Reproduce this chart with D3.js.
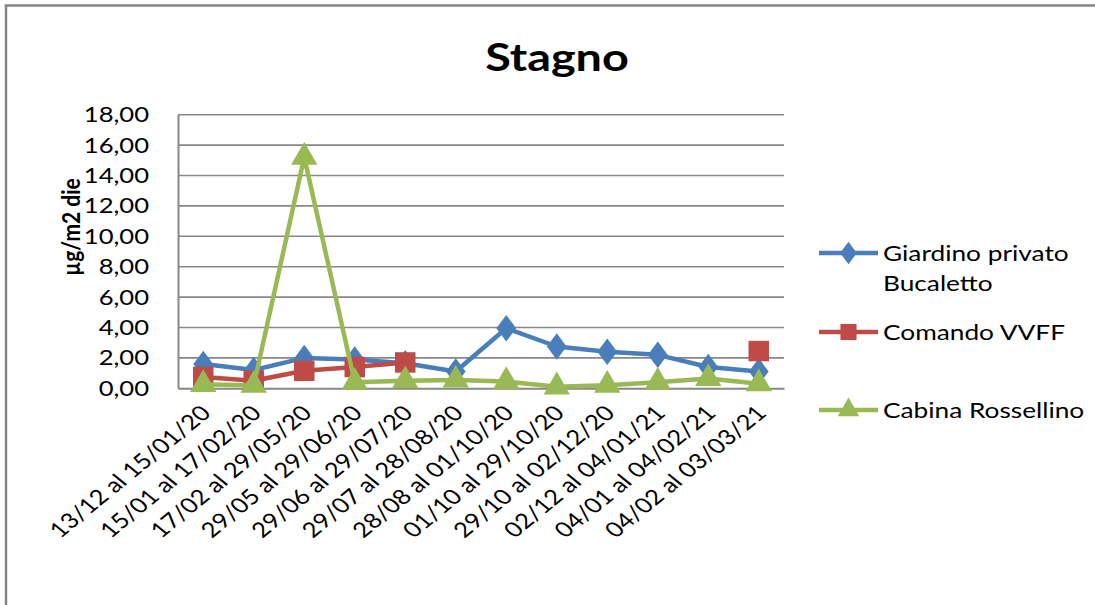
<!DOCTYPE html>
<html>
<head>
<meta charset="utf-8">
<script src="https://cdn.jsdelivr.net/npm/d3@7"></script>
<style>
html,body{margin:0;padding:0;background:#fff;}
svg{display:block;}
text{font-family:Lato,"Open Sans",sans-serif;fill:#000;}
</style>
</head>
<body>
<svg id="chart" width="1095" height="605"></svg>
<script>
const categories = ["13/12 al 15/01/20","15/01 al 17/02/20","17/02 al 29/05/20","29/05 al 29/06/20","29/06 al 29/07/20","29/07 al 28/08/20","28/08 al 01/10/20","01/10 al 29/10/20","29/10 al 02/12/20","02/12 al 04/01/21","04/01 al 04/02/21","04/02 al 03/03/21"];
const giardino = [1.6, 1.2, 2.0, 1.9, 1.65, 1.1, 3.95, 2.75, 2.4, 2.2, 1.4, 1.1];
const comando = [0.75, 0.5, 1.15, 1.4, 1.7, null, null, null, null, null, null, 2.45];
const cabina = [0.25, 0.2, 15.2, 0.4, 0.5, 0.55, 0.45, 0.1, 0.2, 0.4, 0.65, 0.3];
const seriesNames = ["Giardino privato|Bucaletto", "Comando VVFF", "Cabina Rossellino"];
const yTicks = [0, 2, 4, 6, 8, 10, 12, 14, 16, 18];
const title = "Stagno";
const yTitle = "µg/m2 die";

(function () {
const colors = ["#4a7ebb", "#be4b48", "#98b954"];
const shapes = [d3.symbolDiamond, d3.symbolSquare, d3.symbolTriangle];
const series = [giardino, comando, cabina];
const SX = 1.22;

const svg = d3.select("#chart");
const pl = 178, pr = 784, pt = 114.7, pb = 388.3;

const x = d3.scaleBand().domain(categories).range([pl, pr]);
const y = d3.scaleLinear().domain([0, 18]).range([pb, pt]);
const fmt = v => d3.format(".2f")(v).replace(".", ",");

// outer border
svg.append("path").attr("d", "M6,605 L6,5.5 L1095,5.5")
  .attr("fill", "none").attr("stroke", "#868686").attr("stroke-width", 2.5);

// title
svg.append("text").text(title)
  .attr("transform", `translate(557,71) scale(1.2,1)`)
  .attr("text-anchor", "middle").attr("font-size", 39).attr("font-weight", "bold");

// gridlines
svg.append("g").selectAll("line").data(yTicks.filter(d => d > 0)).join("line")
  .attr("x1", pl).attr("x2", pr)
  .attr("y1", d => y(d)).attr("y2", d => y(d))
  .attr("stroke", "#878787").attr("stroke-width", 1.6);

// axes
const yAxis = d3.axisLeft(y).tickValues(yTicks).tickFormat(fmt).tickSize(0).tickPadding(0);
const gy = svg.append("g").attr("transform", `translate(${pl},0)`).call(yAxis);
gy.select(".domain").attr("stroke", "#878787").attr("stroke-width", 2);
gy.selectAll(".tick").attr("transform", null);
gy.selectAll("text").each(function(d) {
  const t = d3.select(this);
  t.attr("x", null).attr("dy", null)
   .attr("text-anchor", "end")
   .attr("transform", `translate(-29,${y(d) + 7.5}) scale(${SX},1)`)
   .attr("font-size", 21).attr("font-family", "Lato").attr("fill", "#000");
});

const xAxis = d3.axisBottom(x).tickSize(0).tickPadding(0);
const gx = svg.append("g").attr("transform", `translate(0,${pb})`).call(xAxis);
gx.select(".domain").attr("stroke", "#878787").attr("stroke-width", 2);
gx.selectAll(".tick").attr("transform", null);
gx.selectAll("text").each(function(d) {
  const t = d3.select(this);
  t.attr("y", null).attr("dy", null)
   .attr("text-anchor", "end")
   .attr("transform", `translate(${x(d) + x.bandwidth() / 2 + 9},${26}) scale(${SX},1) rotate(-45)`)
   .attr("font-size", 21).attr("font-family", "Lato").attr("fill", "#000");
});

// y title
svg.append("text").text(yTitle)
  .attr("transform", `translate(80,227) scale(${SX},1) rotate(-90)`)
  .attr("text-anchor", "middle").attr("font-size", 21).attr("font-weight", "bold");

// lines & markers
const cx = i => x(categories[i]) + x.bandwidth() / 2;
const sizes = [280, 420, 300];
series.forEach((vals, si) => {
  const line = d3.line().defined(v => v != null).x((v, i) => cx(i)).y(v => y(v));
  svg.append("path").datum(vals).attr("d", line)
    .attr("fill", "none").attr("stroke", colors[si]).attr("stroke-width", 4.5)
    .attr("stroke-linejoin", "round");
  const sym = d3.symbol().type(shapes[si]).size(sizes[si]);
  svg.append("g").selectAll("path")
    .data(vals.map((v, i) => ({v, i})).filter(d => d.v != null)).join("path")
    .attr("d", sym)
    .attr("transform", d => `translate(${cx(d.i)},${y(d.v)})` + (si === 0 ? " scale(1.1,0.85)" : ""))
    .attr("fill", colors[si]);
});

// legend
const legY = [253, 332, 410];
seriesNames.forEach((name, si) => {
  const g = svg.append("g");
  g.append("line").attr("x1", 819).attr("x2", 878).attr("y1", legY[si]).attr("y2", legY[si])
    .attr("stroke", colors[si]).attr("stroke-width", 4.5);
  g.append("path").attr("d", d3.symbol().type(shapes[si]).size(si === 1 ? 260 : 200)())
    .attr("transform", `translate(848.5,${legY[si]})` + (si === 0 ? " scale(1.1,0.85)" : ""))
    .attr("fill", colors[si]);
  name.split("|").forEach((part, k) => {
    g.append("text").text(part)
      .attr("transform", `translate(883,${legY[si] + 7.5 + k * 30}) scale(1.25,1)`)
      .attr("font-size", 21);
  });
});
})();
</script>
</body>
</html>
